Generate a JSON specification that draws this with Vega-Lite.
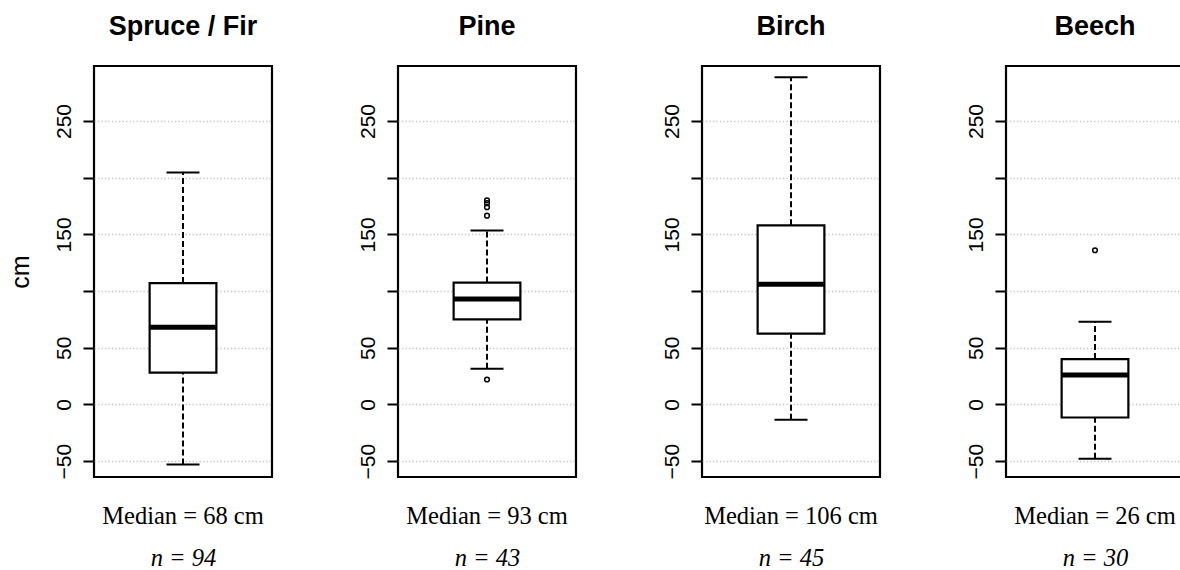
{
  "$schema": "https://vega.github.io/schema/vega-lite/v6.json",
  "background": "white",
  "padding": {"left": 6, "top": 11, "right": -5, "bottom": 0},
  "datasets": {
    "stats": [
      {"species": "Spruce / Fir", "label": "Median = 68 cm", "lower": -53, "q1": 28, "median": 68, "q3": 107, "upper": 204.5},
      {"species": "Pine", "label": "Median = 93 cm", "lower": 31.5, "q1": 75, "median": 93, "q3": 107.5, "upper": 153.5},
      {"species": "Birch", "label": "Median = 106 cm", "lower": -13.5, "q1": 62.5, "median": 106, "q3": 158, "upper": 288.5},
      {"species": "Beech", "label": "Median = 26 cm", "lower": -48, "q1": -11.5, "median": 26, "q3": 40, "upper": 73}
    ],
    "outliers": [
      {"species": "Pine", "label": "Median = 93 cm", "value": 180},
      {"species": "Pine", "label": "Median = 93 cm", "value": 177.5},
      {"species": "Pine", "label": "Median = 93 cm", "value": 174},
      {"species": "Pine", "label": "Median = 93 cm", "value": 166.5},
      {"species": "Pine", "label": "Median = 93 cm", "value": 22},
      {"species": "Beech", "label": "Median = 26 cm", "value": 136}
    ]
  },
  "hconcat": [
    {
      "width": 178, "height": 411,
      "title": "Spruce / Fir",
      "data": {"name": "stats"},
      "transform": [{"filter": "datum.species == 'Spruce / Fir'"}],
      "layer": [
        {"mark": {"type": "rule", "strokeDash": [6, 3], "strokeWidth": 2, "color": "black"},
         "encoding": {"x": {"field": "label", "type": "nominal", "title": "n = 94", "scale": {"paddingInner": 0, "paddingOuter": 0}},
                      "y": {"field": "q3", "type": "quantitative", "title": "cm", "scale": {"domain": [-64, 298.5], "nice": false, "zero": false}, "axis": {"labelExpr": "datum.value == 100 || datum.value == 200 ? '' : datum.label"}},
                      "y2": {"field": "upper"}}},
        {"mark": {"type": "rule", "strokeDash": [6, 3], "strokeWidth": 2, "color": "black"},
         "encoding": {"x": {"field": "label", "type": "nominal", "title": "n = 94", "scale": {"paddingInner": 0, "paddingOuter": 0}},
                      "y": {"field": "lower", "type": "quantitative", "title": "cm", "scale": {"domain": [-64, 298.5], "nice": false, "zero": false}},
                      "y2": {"field": "q1"}}},
        {"mark": {"type": "tick", "size": 33, "thickness": 2, "color": "black", "opacity": 1},
         "encoding": {"x": {"field": "label", "type": "nominal", "title": "n = 94", "scale": {"paddingInner": 0, "paddingOuter": 0}},
                      "y": {"field": "upper", "type": "quantitative", "title": "cm", "scale": {"domain": [-64, 298.5], "nice": false, "zero": false}}}},
        {"mark": {"type": "tick", "size": 33, "thickness": 2, "color": "black", "opacity": 1},
         "encoding": {"x": {"field": "label", "type": "nominal", "title": "n = 94", "scale": {"paddingInner": 0, "paddingOuter": 0}},
                      "y": {"field": "lower", "type": "quantitative", "title": "cm", "scale": {"domain": [-64, 298.5], "nice": false, "zero": false}}}},
        {"mark": {"type": "bar", "width": {"band": 0.375}, "fill": "white", "stroke": "black", "strokeWidth": 2.2, "opacity": 1},
         "encoding": {"x": {"field": "label", "type": "nominal", "title": "n = 94", "scale": {"paddingInner": 0, "paddingOuter": 0}},
                      "y": {"field": "q1", "type": "quantitative", "title": "cm", "scale": {"domain": [-64, 298.5], "nice": false, "zero": false}},
                      "y2": {"field": "q3"}}},
        {"mark": {"type": "tick", "size": 66, "thickness": 5, "color": "black", "opacity": 1},
         "encoding": {"x": {"field": "label", "type": "nominal", "title": "n = 94", "scale": {"paddingInner": 0, "paddingOuter": 0}},
                      "y": {"field": "median", "type": "quantitative", "title": "cm", "scale": {"domain": [-64, 298.5], "nice": false, "zero": false}}}}
      ]
    },
    {
      "width": 178, "height": 411,
      "title": "Pine",
      "data": {"name": "stats"},
      "transform": [{"filter": "datum.species == 'Pine'"}],
      "layer": [
        {"mark": {"type": "rule", "strokeDash": [6, 3], "strokeWidth": 2, "color": "black"},
         "encoding": {"x": {"field": "label", "type": "nominal", "title": "n = 43", "scale": {"paddingInner": 0, "paddingOuter": 0}},
                      "y": {"field": "q3", "type": "quantitative", "title": null, "scale": {"domain": [-64, 298.5], "nice": false, "zero": false}, "axis": {"labelExpr": "datum.value == 100 || datum.value == 200 ? '' : datum.label"}},
                      "y2": {"field": "upper"}}},
        {"mark": {"type": "rule", "strokeDash": [6, 3], "strokeWidth": 2, "color": "black"},
         "encoding": {"x": {"field": "label", "type": "nominal", "title": "n = 43", "scale": {"paddingInner": 0, "paddingOuter": 0}},
                      "y": {"field": "lower", "type": "quantitative", "title": null, "scale": {"domain": [-64, 298.5], "nice": false, "zero": false}},
                      "y2": {"field": "q1"}}},
        {"mark": {"type": "tick", "size": 33, "thickness": 2, "color": "black", "opacity": 1},
         "encoding": {"x": {"field": "label", "type": "nominal", "title": "n = 43", "scale": {"paddingInner": 0, "paddingOuter": 0}},
                      "y": {"field": "upper", "type": "quantitative", "title": null, "scale": {"domain": [-64, 298.5], "nice": false, "zero": false}}}},
        {"mark": {"type": "tick", "size": 33, "thickness": 2, "color": "black", "opacity": 1},
         "encoding": {"x": {"field": "label", "type": "nominal", "title": "n = 43", "scale": {"paddingInner": 0, "paddingOuter": 0}},
                      "y": {"field": "lower", "type": "quantitative", "title": null, "scale": {"domain": [-64, 298.5], "nice": false, "zero": false}}}},
        {"mark": {"type": "bar", "width": {"band": 0.375}, "fill": "white", "stroke": "black", "strokeWidth": 2.2, "opacity": 1},
         "encoding": {"x": {"field": "label", "type": "nominal", "title": "n = 43", "scale": {"paddingInner": 0, "paddingOuter": 0}},
                      "y": {"field": "q1", "type": "quantitative", "title": null, "scale": {"domain": [-64, 298.5], "nice": false, "zero": false}},
                      "y2": {"field": "q3"}}},
        {"mark": {"type": "tick", "size": 66, "thickness": 5, "color": "black", "opacity": 1},
         "encoding": {"x": {"field": "label", "type": "nominal", "title": "n = 43", "scale": {"paddingInner": 0, "paddingOuter": 0}},
                      "y": {"field": "median", "type": "quantitative", "title": null, "scale": {"domain": [-64, 298.5], "nice": false, "zero": false}}}},
        {"data": {"name": "outliers"},
         "transform": [{"filter": "datum.species == 'Pine'"}],
         "mark": {"type": "point", "shape": "circle", "filled": false, "size": 22, "strokeWidth": 1.5, "color": "black", "opacity": 1},
         "encoding": {"x": {"field": "label", "type": "nominal", "title": "n = 43", "scale": {"paddingInner": 0, "paddingOuter": 0}},
                      "y": {"field": "value", "type": "quantitative", "title": null, "scale": {"domain": [-64, 298.5], "nice": false, "zero": false}}}}
      ]
    },
    {
      "width": 178, "height": 411,
      "title": "Birch",
      "data": {"name": "stats"},
      "transform": [{"filter": "datum.species == 'Birch'"}],
      "layer": [
        {"mark": {"type": "rule", "strokeDash": [6, 3], "strokeWidth": 2, "color": "black"},
         "encoding": {"x": {"field": "label", "type": "nominal", "title": "n = 45", "scale": {"paddingInner": 0, "paddingOuter": 0}},
                      "y": {"field": "q3", "type": "quantitative", "title": null, "scale": {"domain": [-64, 298.5], "nice": false, "zero": false}, "axis": {"labelExpr": "datum.value == 100 || datum.value == 200 ? '' : datum.label"}},
                      "y2": {"field": "upper"}}},
        {"mark": {"type": "rule", "strokeDash": [6, 3], "strokeWidth": 2, "color": "black"},
         "encoding": {"x": {"field": "label", "type": "nominal", "title": "n = 45", "scale": {"paddingInner": 0, "paddingOuter": 0}},
                      "y": {"field": "lower", "type": "quantitative", "title": null, "scale": {"domain": [-64, 298.5], "nice": false, "zero": false}},
                      "y2": {"field": "q1"}}},
        {"mark": {"type": "tick", "size": 33, "thickness": 2, "color": "black", "opacity": 1},
         "encoding": {"x": {"field": "label", "type": "nominal", "title": "n = 45", "scale": {"paddingInner": 0, "paddingOuter": 0}},
                      "y": {"field": "upper", "type": "quantitative", "title": null, "scale": {"domain": [-64, 298.5], "nice": false, "zero": false}}}},
        {"mark": {"type": "tick", "size": 33, "thickness": 2, "color": "black", "opacity": 1},
         "encoding": {"x": {"field": "label", "type": "nominal", "title": "n = 45", "scale": {"paddingInner": 0, "paddingOuter": 0}},
                      "y": {"field": "lower", "type": "quantitative", "title": null, "scale": {"domain": [-64, 298.5], "nice": false, "zero": false}}}},
        {"mark": {"type": "bar", "width": {"band": 0.375}, "fill": "white", "stroke": "black", "strokeWidth": 2.2, "opacity": 1},
         "encoding": {"x": {"field": "label", "type": "nominal", "title": "n = 45", "scale": {"paddingInner": 0, "paddingOuter": 0}},
                      "y": {"field": "q1", "type": "quantitative", "title": null, "scale": {"domain": [-64, 298.5], "nice": false, "zero": false}},
                      "y2": {"field": "q3"}}},
        {"mark": {"type": "tick", "size": 66, "thickness": 5, "color": "black", "opacity": 1},
         "encoding": {"x": {"field": "label", "type": "nominal", "title": "n = 45", "scale": {"paddingInner": 0, "paddingOuter": 0}},
                      "y": {"field": "median", "type": "quantitative", "title": null, "scale": {"domain": [-64, 298.5], "nice": false, "zero": false}}}}
      ]
    },
    {
      "width": 178, "height": 411,
      "title": "Beech",
      "data": {"name": "stats"},
      "transform": [{"filter": "datum.species == 'Beech'"}],
      "layer": [
        {"mark": {"type": "rule", "strokeDash": [6, 3], "strokeWidth": 2, "color": "black"},
         "encoding": {"x": {"field": "label", "type": "nominal", "title": "n = 30", "scale": {"paddingInner": 0, "paddingOuter": 0}},
                      "y": {"field": "q3", "type": "quantitative", "title": null, "scale": {"domain": [-64, 298.5], "nice": false, "zero": false}, "axis": {"labelExpr": "datum.value == 100 || datum.value == 200 ? '' : datum.label"}},
                      "y2": {"field": "upper"}}},
        {"mark": {"type": "rule", "strokeDash": [6, 3], "strokeWidth": 2, "color": "black"},
         "encoding": {"x": {"field": "label", "type": "nominal", "title": "n = 30", "scale": {"paddingInner": 0, "paddingOuter": 0}},
                      "y": {"field": "lower", "type": "quantitative", "title": null, "scale": {"domain": [-64, 298.5], "nice": false, "zero": false}},
                      "y2": {"field": "q1"}}},
        {"mark": {"type": "tick", "size": 33, "thickness": 2, "color": "black", "opacity": 1},
         "encoding": {"x": {"field": "label", "type": "nominal", "title": "n = 30", "scale": {"paddingInner": 0, "paddingOuter": 0}},
                      "y": {"field": "upper", "type": "quantitative", "title": null, "scale": {"domain": [-64, 298.5], "nice": false, "zero": false}}}},
        {"mark": {"type": "tick", "size": 33, "thickness": 2, "color": "black", "opacity": 1},
         "encoding": {"x": {"field": "label", "type": "nominal", "title": "n = 30", "scale": {"paddingInner": 0, "paddingOuter": 0}},
                      "y": {"field": "lower", "type": "quantitative", "title": null, "scale": {"domain": [-64, 298.5], "nice": false, "zero": false}}}},
        {"mark": {"type": "bar", "width": {"band": 0.375}, "fill": "white", "stroke": "black", "strokeWidth": 2.2, "opacity": 1},
         "encoding": {"x": {"field": "label", "type": "nominal", "title": "n = 30", "scale": {"paddingInner": 0, "paddingOuter": 0}},
                      "y": {"field": "q1", "type": "quantitative", "title": null, "scale": {"domain": [-64, 298.5], "nice": false, "zero": false}},
                      "y2": {"field": "q3"}}},
        {"mark": {"type": "tick", "size": 66, "thickness": 5, "color": "black", "opacity": 1},
         "encoding": {"x": {"field": "label", "type": "nominal", "title": "n = 30", "scale": {"paddingInner": 0, "paddingOuter": 0}},
                      "y": {"field": "median", "type": "quantitative", "title": null, "scale": {"domain": [-64, 298.5], "nice": false, "zero": false}}}},
        {"data": {"name": "outliers"},
         "transform": [{"filter": "datum.species == 'Beech'"}],
         "mark": {"type": "point", "shape": "circle", "filled": false, "size": 22, "strokeWidth": 1.5, "color": "black", "opacity": 1},
         "encoding": {"x": {"field": "label", "type": "nominal", "title": "n = 30", "scale": {"paddingInner": 0, "paddingOuter": 0}},
                      "y": {"field": "value", "type": "quantitative", "title": null, "scale": {"domain": [-64, 298.5], "nice": false, "zero": false}}}}
      ]
    }
  ],
  "config": {
    "font": "Liberation Sans",
    "concat": {"spacing": 81},
    "view": {"stroke": "black", "strokeWidth": 2.2},
    "axis": {"domain": false, "grid": false},
    "axisY": {
      "grid": true, "gridColor": "#c4c4c4", "gridDash": [1.3, 2.2], "gridWidth": 1.4,
      "ticks": true, "tickColor": "black", "tickSize": 11, "tickWidth": 2,
      "labelAngle": -90, "labelAlign": "center", "labelBaseline": "alphabetic", "labelPadding": 13,
      "labelFont": "Liberation Sans", "labelFontSize": 21, "labelColor": "black",
      "titleFont": "Liberation Sans", "titleFontSize": 25, "titleFontWeight": "normal", "titleColor": "black",
      "titleBaseline": "alphabetic", "titlePadding": 25
    },
    "axisX": {
      "ticks": false, "labelAngle": 0, "labelFont": "Liberation Serif", "labelFontSize": 24.5, "labelColor": "black",
      "labelBaseline": "alphabetic", "labelPadding": 46, "labelLimit": 400,
      "titleFont": "Liberation Serif", "titleFontSize": 24.5, "titleFontWeight": "normal", "titleFontStyle": "italic",
      "titleColor": "black", "titleBaseline": "alphabetic", "titlePadding": 38
    },
    "title": {"font": "Liberation Sans", "fontSize": 27, "fontWeight": "bold", "color": "black", "baseline": "alphabetic", "offset": 25, "anchor": "middle", "frame": "group"}
  }
}
